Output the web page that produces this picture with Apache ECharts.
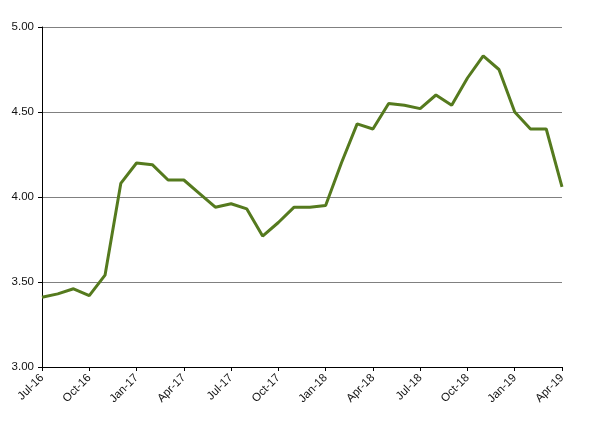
<!DOCTYPE html>
<html>
<head>
<meta charset="utf-8">
<script src="https://cdn.jsdelivr.net/npm/echarts@6/dist/echarts.min.js"></script>
<style>
  html, body { margin: 0; padding: 0; background: #fff; }
  #chart { width: 609px; height: 424px; }
</style>
</head>
<body>
<div id="chart"></div>
<script>
// monthly points, Jul-16 .. Apr-19
const months = ['Jul-16', 'Aug-16', 'Sep-16', 'Oct-16', 'Nov-16', 'Dec-16',
  'Jan-17', 'Feb-17', 'Mar-17', 'Apr-17', 'May-17', 'Jun-17',
  'Jul-17', 'Aug-17', 'Sep-17', 'Oct-17', 'Nov-17', 'Dec-17',
  'Jan-18', 'Feb-18', 'Mar-18', 'Apr-18', 'May-18', 'Jun-18',
  'Jul-18', 'Aug-18', 'Sep-18', 'Oct-18', 'Nov-18', 'Dec-18',
  'Jan-19', 'Feb-19', 'Mar-19', 'Apr-19']
const values = [3.41, 3.43, 3.46, 3.42, 3.54, 4.08,
  4.20, 4.19, 4.10, 4.10, 4.02, 3.94,
  3.96, 3.93, 3.77, 3.85, 3.94, 3.94,
  3.95, 4.20, 4.43, 4.40, 4.55, 4.54,
  4.52, 4.60, 4.54, 4.70, 4.83, 4.75,
  4.50, 4.40, 4.40, 4.06]
const yMin = 3
const yMax = 5
const yStep = 0.5

const chart = echarts.init(document.getElementById('chart'))
chart.setOption({
  animation: false,
  grid: { left: 42, right: 47, top: 27, bottom: 57 },
  xAxis: {
    type: 'category',
    data: months,
    boundaryGap: false,
    axisLine: { lineStyle: { color: '#000', width: 1 } },
    axisTick: { interval: 2, length: 4, lineStyle: { color: '#000' } },
    axisLabel: {
      interval: 2,
      rotate: 45,
      color: '#111',
      fontFamily: 'Liberation Sans',
      fontSize: 11.5,
      margin: 9
    },
    splitLine: { show: false }
  },
  yAxis: {
    type: 'value',
    min: yMin,
    max: yMax,
    interval: yStep,
    axisLine: { show: true, lineStyle: { color: '#000', width: 1 } },
    axisTick: { show: true, length: 4, lineStyle: { color: '#000' } },
    axisLabel: {
      formatter: v => v.toFixed(2),
      color: '#111',
      fontFamily: 'Liberation Sans',
      fontSize: 11.5,
      margin: 8
    },
    splitLine: { lineStyle: { color: '#808080', width: 1 } }
  },
  series: [{
    type: 'line',
    data: values,
    showSymbol: false,
    lineStyle: { color: '#557a1e', width: 3 },
    itemStyle: { color: '#557a1e' }
  }]
})
</script>
</body>
</html>
